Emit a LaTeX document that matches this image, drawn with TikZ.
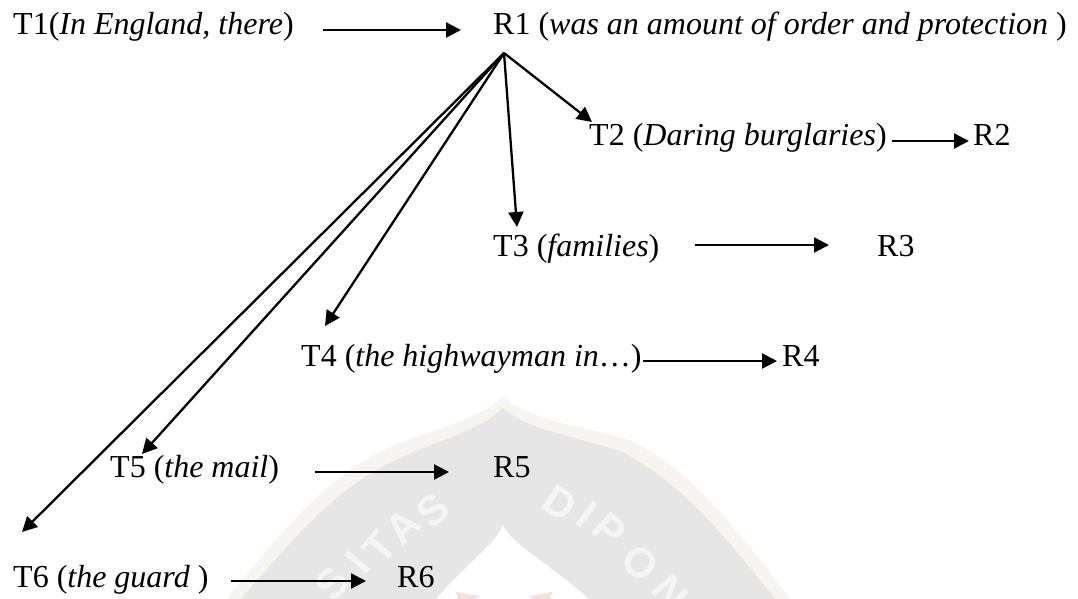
\documentclass[tikz,border=0pt]{standalone}
\usepackage{fontspec}
\setmainfont{Liberation Serif}
\newfontfamily\wmfont{Liberation Sans}
\usetikzlibrary{arrows.meta}
\definecolor{wmgrey}{HTML}{E6E6E6}
\definecolor{wmcream}{HTML}{F8F4EF}
\definecolor{wmred}{HTML}{F8DEDE}
\definecolor{wmletter}{HTML}{F5F5F5}
\tikzset{lbl/.style={anchor=base west,inner sep=0pt,font=\fontsize{32pt}{34pt}\selectfont},
wm/.style={text=wmletter,inner sep=0pt,font=\wmfont\bfseries\fontsize{42pt}{44pt}\selectfont},
arr/.style={line width=2.3pt,-{Triangle[length=15pt,width=15pt]}}}
\begin{document}
\begin{tikzpicture}[x=1pt,y=-1pt]
\useasboundingbox (0,0) rectangle (1078,599);
\fill[white] (0,0) rectangle (1078,599);
% watermark
\begin{scope}
\clip (0,0) rectangle (1078,599);
\fill[wmcream] (503,396) .. controls (480,420) and (430,430) .. (390,447) .. controls (330,475) and (290,520) .. (222,605) -- (795,605) .. controls (730,520) and (690,470) .. (630,440) .. controls (580,425) and (526,420) .. (503,396) -- cycle;
\fill[wmgrey] (503,408) .. controls (480,430) and (440,440) .. (400,458) .. controls (340,485) and (300,530) .. (236,605) -- (780,605) .. controls (720,530) and (680,482) .. (622,452) .. controls (575,436) and (526,430) .. (503,408) -- cycle;
\fill[white] (503,525) .. controls (495,545) and (470,560) .. (435,600) -- (590,600) .. controls (545,560) and (512,545) .. (503,525) -- cycle;
\fill[wmred] (456,592) -- (480,596) -- (475,599) -- (458,599) -- cycle;
\fill[wmred] (530,596) -- (552,592) -- (550,599) -- (532,599) -- cycle;
\node[wm,rotate=50] (w1) at (332,583) {S};
\node[wm,rotate=50] (w2) at (358,563) {I};
\node[wm,rotate=50] (w3) at (380,547) {T};
\node[wm,rotate=45] (w4) at (403,527) {A};
\node[wm,rotate=40] (w5) at (433,510) {S};
\node[wm,rotate=-32] (w6) at (560,503) {D};
\node[wm,rotate=-38] (w7) at (587,515) {I};
\node[wm,rotate=-42] (w8) at (610,530) {P};
\node[wm,rotate=-46] (w9) at (640,563) {O};
\node[wm,rotate=-50] (w10) at (670,593) {N};
\end{scope}
\node[lbl] (t1) at (13,35) {T1(\textit{In England, there})};
\node[lbl] (r1) at (493,35) {R1 (\textit{was an amount of order and protection} )};
\node[lbl] (t2) at (589,145) {T2 (\textit{Daring burglaries})};
\node[lbl] (r2) at (973,145) {R2};
\node[lbl] (t3) at (493,256) {T3 (\textit{families})};
\node[lbl] (r3) at (877,256) {R3};
\node[lbl] (t4) at (301,366) {T4 (\textit{the highwayman in}\dots)};
\node[lbl] (r4) at (782,366) {R4};
\node[lbl] (t5) at (110,477) {T5 (\textit{the mail})};
\node[lbl] (r5) at (493,477) {R5};
\node[lbl] (t6) at (13,587) {T6 (\textit{the guard} )};
\node[lbl] (r6) at (397,587) {R6};
\foreach \s/\e/\ys/\xa/\xb in {t1/r1/5/29/-32, t2/r2/4/5/-4, t3/r3/11/35/-48, t4/r4/5/1/-5, t5/r5/5/36/-44, t6/r6/6/22/-31}
  \draw[arr] ([shift={(\xa,-\ys)}]\s.base east) -- ([shift={(\xb,-\ys)}]\e.base west);
\coordinate (o) at ([shift={(11,18)}]r1.base west);
\draw[arr] (o) -- ([shift={(3,-23)}]t2.base west);
\draw[arr] (o) -- ([shift={(24,-29)}]t3.base west);
\draw[arr] (o) -- ([shift={(24,-40)}]t4.base west);
\draw[arr] (o) -- ([shift={(32,-23)}]t5.base west);
\draw[arr] (o) -- ([shift={(9,-55)}]t6.base west);
\end{tikzpicture}
\end{document}
